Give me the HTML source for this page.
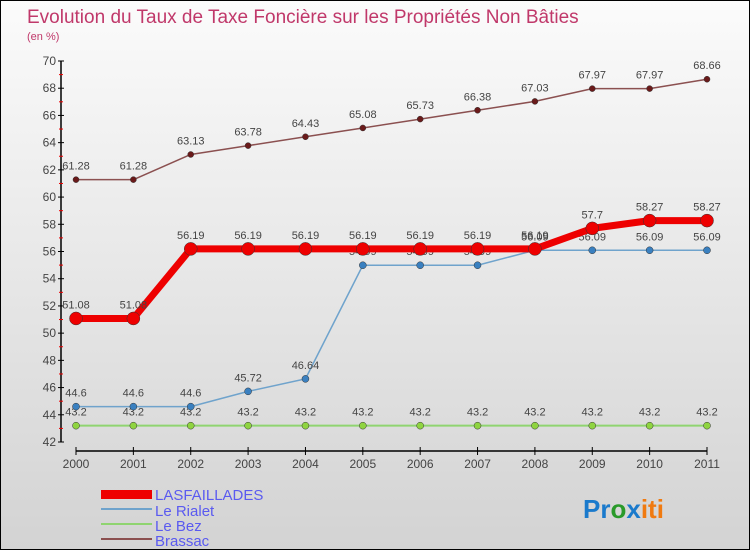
<!DOCTYPE html>
<html><head><meta charset="utf-8"><style>
body{margin:0}
#c{position:relative;width:748px;height:548px;border:1px solid #000;background:linear-gradient(#fbfbfb,#d3d3d3);font-family:"Liberation Sans",sans-serif;overflow:hidden}
</style></head><body>
<div id="c">
<svg width="748" height="548" style="position:absolute;left:0;top:0">
<text x="26" y="22" font-size="19" fill="#c0386a">Evolution du Taux de Taxe Foncière sur les Propriétés Non Bâties</text>
<text x="26" y="39" font-size="11" fill="#c0386a">(en %)</text>
<g id="axes"></g><g id="series"></g>
<g>
<rect x="100" y="489" width="51" height="9" fill="#e00"/>
<text x="154" y="499" font-size="15" fill="#5a5af0">LASFAILLADES</text>
<line x1="100" y1="508" x2="151" y2="508" stroke="#6fa3cc" stroke-width="2"/>
<text x="154" y="515" font-size="15" fill="#5a5af0">Le Rialet</text>
<line x1="100" y1="523" x2="151" y2="523" stroke="#8fd470" stroke-width="2"/>
<text x="154" y="530" font-size="15" fill="#5a5af0">Le Bez</text>
<line x1="100" y1="538" x2="151" y2="538" stroke="#8b5050" stroke-width="2"/>
<text x="154" y="545" font-size="15" fill="#5a5af0">Brassac</text>
</g>
<text x="582" y="517" font-size="26" font-weight="bold"><tspan fill="#1a7acc">Pr</tspan><tspan fill="#2a9a2a">o</tspan><tspan fill="#1a7acc">x</tspan><tspan fill="#f07a10">iti</tspan></text>
</svg></div>
<script>
const years=["2000","2001","2002","2003","2004","2005","2006","2007","2008","2009","2010","2011"];
const yTicks=[42,44,46,48,50,52,54,56,58,60,62,64,66,68,70];
const lasfaillades=[51.08,51.08,56.19,56.19,56.19,56.19,56.19,56.19,56.19,57.7,58.27,58.27];
const rialet=[44.6,44.6,44.6,45.72,46.64,54.99,54.99,54.99,56.09,56.09,56.09,56.09];
const bez=[43.2,43.2,43.2,43.2,43.2,43.2,43.2,43.2,43.2,43.2,43.2,43.2];
const brassac=[61.28,61.28,63.13,63.78,64.43,65.08,65.73,66.38,67.03,67.97,67.97,68.66];
const NS="http://www.w3.org/2000/svg";
const X=i=>75+i*(706-75)/(years.length-1);
const Y=v=>441-(v-42)*(441-60)/28;
function mk(t,a,p){const e=document.createElementNS(NS,t);for(const k in a)e.setAttribute(k,a[k]);p.appendChild(e);return e;}
const ax=document.getElementById('axes');
mk('line',{x1:60,y1:Y(70),x2:60,y2:Y(42),stroke:'#000','stroke-width':1.5},ax);
mk('line',{x1:X(0),y1:450,x2:X(11),y2:450,stroke:'#000','stroke-width':1.5},ax);
yTicks.forEach(v=>{mk('line',{x1:57,y1:Y(v),x2:63,y2:Y(v),stroke:'#000'},ax);
 if(v<70)mk('line',{x1:58,y1:Y(v+1),x2:62,y2:Y(v+1),stroke:'#e00'},ax);
 const t=mk('text',{x:55,y:Y(v)+4,'font-size':12,'text-anchor':'end',fill:'#444'},ax);t.textContent=v;
 
 });
years.forEach((y,i)=>{mk('line',{x1:X(i),y1:446,x2:X(i),y2:454,stroke:'#000'},ax);
 const t=mk('text',{x:X(i),y:467,'font-size':12,'text-anchor':'middle',fill:'#444'},ax);t.textContent=y;
 
 });
const sg=document.getElementById('series');
function series(d,name,col,w,r,dot){
 const g=mk('g',{},sg);
 
 
 mk('polyline',{points:d.map((v,i)=>X(i)+','+Y(v)).join(' '),fill:'none',stroke:col,'stroke-width':w,'stroke-linejoin':'round'},g);
 d.forEach((v,i)=>{const c=mk('circle',{cx:X(i),cy:Y(v),r:r,fill:dot,stroke:'#333','stroke-width':0.5},g);
  
  
  const t=mk('text',{x:X(i),y:Y(v)-10,'font-size':11,'text-anchor':'middle',fill:'#444'},g);t.textContent=v;
  
  });
}
series(brassac,'brassac','#8b5050',1.5,3,'#6a1a1a');
series(bez,'le-bez','#8fd470',2,3.5,'#8fd440');
series(rialet,'le-rialet','#6fa3cc',1.5,3.5,'#3a80c0');
series(lasfaillades,'lasfaillades','#e00',7,6.5,'#e00');
</script>
</body></html>
